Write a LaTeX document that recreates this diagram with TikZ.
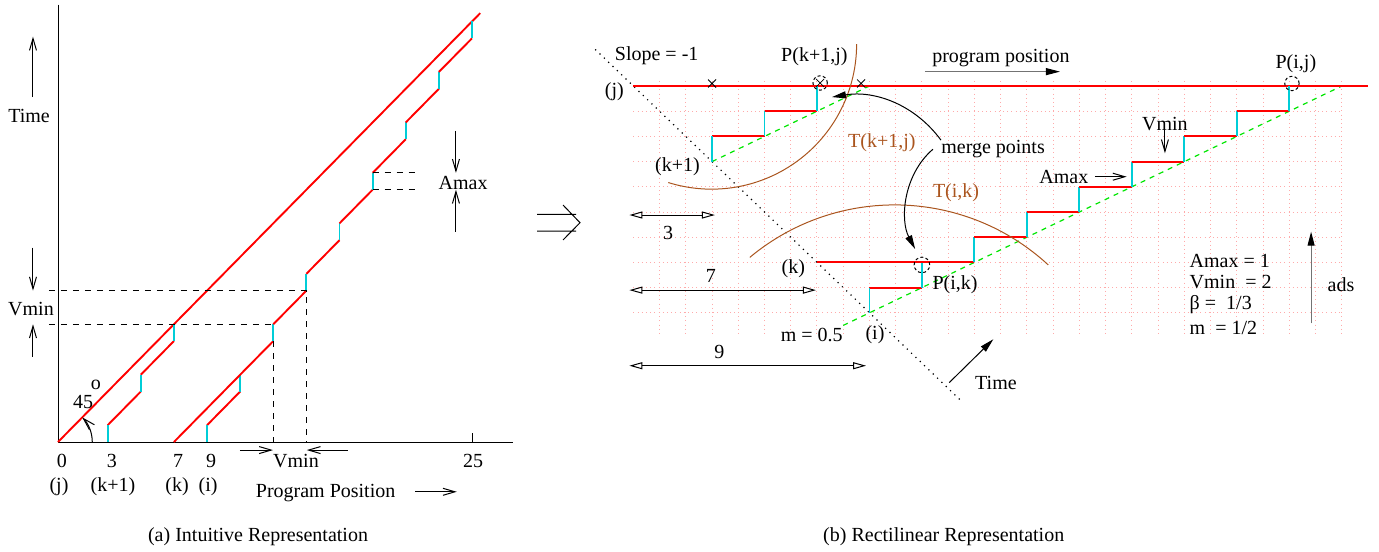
\documentclass[tikz,border=0pt]{standalone}
\usepackage{fontspec}
\setmainfont{Liberation Serif}
\usepackage{tikz}
\usetikzlibrary{arrows.meta}
\definecolor{stepred}{RGB}{255,0,0}
\definecolor{stallcyan}{RGB}{0,205,215}
\definecolor{slopegreen}{RGB}{0,230,0}
\definecolor{treebrown}{RGB}{170,85,30}
\definecolor{gridpink}{RGB}{255,170,170}

\begin{document}
\begin{tikzpicture}[x=0.5pt, y=-0.5pt, every node/.style={inner sep=0pt},
  redrun/.style={stepred, line width=0.95pt},
  cyanstall/.style={stallcyan, line width=0.95pt},
  greenslope/.style={slopegreen, line width=0.6pt, dash pattern=on 2.5pt off 2.5pt},
  brownarc/.style={treebrown, line width=0.5pt},
  pinkgrid/.style={gridpink, line width=0.5pt, dash pattern=on 0.5pt off 1.6pt},
  dotdiag/.style={line width=0.6pt, dash pattern=on 0.6pt off 2.4pt},
  stickarrow/.style={-{Straight Barb[length=6pt,width=3.5pt]}, line width=0.5pt},
  fillarrow/.style={-{Triangle[length=7pt,width=3.5pt,black]}, line width=0.5pt},
  dimarrow/.style={{Triangle[open,length=6.5pt,width=3.5pt]}-{Triangle[open,length=6.5pt,width=3.5pt]}, line width=0.5pt},
  pcircle/.style={line width=0.5pt, dash pattern=on 1.5pt off 1.2pt},
  xmk/.pic={\draw[line width=0.4pt] (-2pt,-2pt) -- (2pt,2pt) (-2pt,2pt) -- (2pt,-2pt);}]
\useasboundingbox (0,0) rectangle (1379,551);

\begin{scope}[shift={(29pt,-221pt)}, x=8.28pt, y=8.41pt]
\draw (0,26) -- (0,0) -- (27.5,0);
\draw (25,0) -- (25,0.52);
\draw[redrun] (0,0) -- (25.5,25.5);
\draw[redrun] (3,1) -- (5,3) (5,4) -- (7,6);
\draw[cyanstall] (3,0) -- (3,1) (5,3) -- (5,4) (7,6) -- (7,7);
\draw[redrun] (9,1) -- (11,3);
\draw[cyanstall] (9,0) -- (9,1) (11,3) -- (11,4);
\draw[redrun] (7,0) -- (13,6);
\draw[cyanstall] (13,6) -- (13,7);
\foreach \p in {15,17,...,25}{
  \draw[redrun] (\p-2,1.5*\p-15.5) -- (\p,1.5*\p-13.5);
  \draw[cyanstall] (\p,1.5*\p-13.5) -- ++(0,1);}
\draw[dashed] (-0.55,9) -- (15,9) -- (15,0);
\draw[dashed] (-0.55,7) -- (13,7) (13,6) -- (13,0);
\draw[dashed] (19,16) -- (21.8,16) (19,15) -- (21.8,15);
\node (time) at (-1.75,19.4) {Time};
\draw[stickarrow] (-1.51,20.5) -- (-1.51,24.1);
\node (vminl) at (-1.63,7.92) {Vmin};
\draw[stickarrow] (-1.51,11.55) -- (-1.51,9);
\draw[stickarrow] (-1.51,5.06) -- (-1.51,7);
\node (amax) at (24.46,15.42) {Amax};
\draw[stickarrow] (24.03,18.5) -- (24.03,16);
\draw[stickarrow] (24.03,12.5) -- (24.03,15);
\draw[stickarrow] (2.07,0) arc[start angle=0, end angle=45, radius=2.07];
\node (deg) at (1.51,2.4) {45};
\node at (2.29,3.39) {o};
\foreach \x/\t in {0.24/0, 3.26/3, 7.25/7, 9.24/9, 25.06/25}
  \node at (\x,-1.11) {\t};
\foreach \x/\t in {0.06/{(j)}, 3.32/{(k+1)}, 7.19/{(k)}, 9.06/{(i)}}
  \node at (\x,-2.66) {\t};
\node (vminb) at (14.37,-1.11) {Vmin};
\draw[stickarrow] (10.99,-0.48) -- (12.98,-0.48);
\draw[stickarrow] (17.51,-0.48) -- (15.02,-0.48);
\node (pp) at (16.16,-3.05) {Program Position};
\draw[stickarrow] (21.56,-2.96) -- (24.08,-2.96);
\node (capa) at (12.08,-5.65) {(a) Intuitive Representation};
\end{scope}

\draw[line width=0.5pt] (537,214.3) -- (576,214.3) (537,231) -- (576,231)
  (563,205) -- (580,222.7) -- (563,240);

\begin{scope}[shift={(316.65pt,-43pt)}, x=13.12pt, y=-12.6pt]
\foreach \c in {1,...,27} \draw[pinkgrid] (\c,-0.2) -- (\c,9.9);
\foreach \r in {1,...,9} \draw[pinkgrid] (0,\r) -- (27,\r);
\draw[dotdiag] (-1.45,-1.45) -- (12.45,12.45);
\draw[greenslope] (3,3) -- (9,0) (8,9.5) -- (27,0);
\draw[redrun] (0,0) -- (28,0);
\draw[redrun] (3,2) -- (5,2) (5,1) -- (7,1);
\draw[cyanstall] (3,3) -- (3,2) (5,2) -- (5,1) (7,1) -- (7,0);
\draw[redrun] (9,8) -- (11,8);
\draw[cyanstall] (9,9) -- (9,8) (11,8) -- (11,7);
\draw[redrun] (7,7) -- (13,7);
\draw[cyanstall] (13,7) -- (13,6);
\foreach \c in {15,17,...,25}{
  \draw[redrun] (\c-2,13.5-\c/2) -- (\c,13.5-\c/2);
  \draw[cyanstall] (\c,13.5-\c/2) -- ++(0,-1);}
\pic at (3,-0.1) {xmk};
\pic at (8.68,-0.1) {xmk};
\pic at (7.12,-0.12) {xmk};
\draw[pcircle] (7.12,-0.12) circle[radius=3.6pt];
\draw[pcircle] (25.1,-0.1) circle[radius=3.6pt];
\draw[pcircle] (11,7.1) circle[radius=3.9pt];
\draw[brownarc] (8.51,-1.66) arc[start angle=0, end angle=-107.4, radius=72.5pt];
\draw[brownarc] (4.44,6.8) arc[start angle=129.8, end angle=47.3, radius=113.2pt];
\node at (0.89,-1.19) {Slope = -1};
\node at (-0.72,0.23) {(j)};
\node at (6.9,-1.16) {P(k+1,j)};
\node (prog) at (14.01,-1.1) {program position};
\draw[fillarrow, draw=black!55] (11.11,-0.57) -- (16.26,-0.57);
\node at (25.25,-0.9) {P(i,j)};
\node at (1.68,3.2) {(k+1)};
\node[treebrown] at (9.47,2.25) {T(k+1,j)};
\node (merge) at (13.71,2.51) {merge points};
\node[treebrown] at (12.3,4.23) {T(i,k)};
\draw[fillarrow] (merge.north west) .. controls (10.74,0.75) and (9.21,0.16) .. (7.57,0.44);
\draw[fillarrow] ([xshift=-4pt]merge.west) .. controls (10.28,3.53) and (10.16,5.32) .. (10.74,6.47);
\node (vminr) at (20.26,1.51) {Vmin};
\draw[stickarrow] (20.26,1.75) -- (20.26,2.67);
\node (amaxr) at (16.41,3.6) {Amax};
\draw[stickarrow] (17.59,3.6) -- (18.8,3.6);
\node at (6.1,7.23) {(k)};
\node at (12.26,7.9) {P(i,k)};
\node at (6.8,9.88) {m = 0.5};
\node at (9.21,9.88) {(i)};
\node (timer) at (13.82,11.79) {Time};
\draw[fillarrow] (12.04,11.77) -- (13.72,10.05);
\foreach \r/\e/\t/\lx/\lr in {5.12/3.11/3/1.33/5.85, 8.1/6.96/7/2.96/7.54, 11.1/8.87/9/3.28/10.54}{
  \draw[dimarrow] (-0.15,\r) -- (\e,\r);
  \node at (\lx,\lr) {\t};}
\foreach \r/\t in {6.93/{Amax = 1}, 7.77/{Vmin~~= 2}, 8.69/{β~=~~1/3}, 9.59/{m~~= 1/2}}
  \node[anchor=west] at (21.19,\r) {\t};
\node (ads) at (26.97,7.9) {ads};
\draw[fillarrow, draw=black!55] (25.83,9.42) -- (25.83,5.78);
\node (capb) at (11.83,17.9) {(b) Rectilinear Representation};
\end{scope}
\end{tikzpicture}
\end{document}
